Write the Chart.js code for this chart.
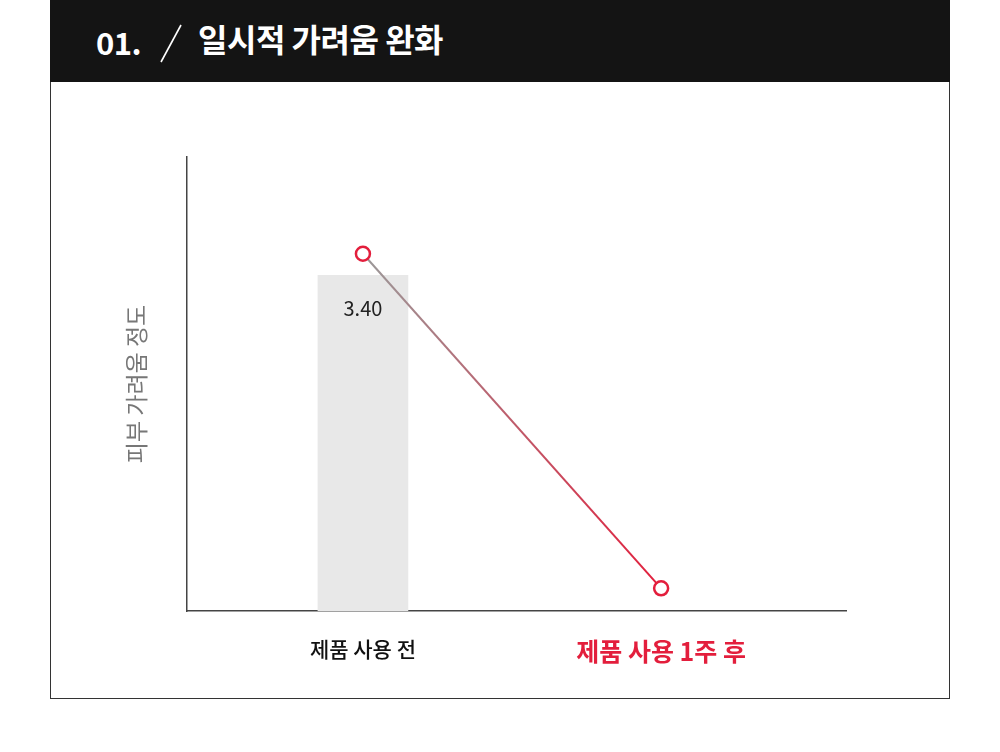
<!DOCTYPE html>
<html>
<head>
<meta charset="utf-8">
<script src="https://cdn.jsdelivr.net/npm/chart.js@4"></script>
<style>
  body { margin: 0; background: #fff; font-family: "Noto Sans CJK KR", "Noto Sans", sans-serif; }
  #header { position: absolute; left: 50px; top: 0; width: 900px; height: 82px; background: #141414; }
  #box { position: absolute; left: 50px; top: 82px; width: 898px; height: 616px; border: 1px solid #333; border-top: none; }
  .ttl { position: absolute; color: #fff; font-weight: 700; line-height: 1; white-space: nowrap; }
  #num { left: 46px; top: 26px; font-size: 31px; letter-spacing: -0.5px; }
  #name { left: 148px; top: 22px; font-size: 32px; letter-spacing: -0.5px; }
  #slash { position: absolute; left: 108px; top: 22px; }
  canvas { position: absolute; left: 0; top: 0; }
</style>
</head>
<body>
<div id="header">
  <div class="ttl" id="num">01.</div>
  <svg id="slash" width="30" height="44"><line x1="3" y1="40" x2="23" y2="3" stroke="#fff" stroke-width="1.6"/></svg>
  <div class="ttl" id="name">일시적 가려움 완화</div>
</div>
<div id="box"></div>
<canvas id="chart" width="1000" height="752"></canvas>
<script>
// chart data
const categories = ["제품 사용 전", "제품 사용 1주 후"];
const barValues = [3.40, null];
const lineValues = [3.62, 0.23];
const barLabels = ["3.40", ""];

const red = "#e31e3c";

// line goes from grey to red
function lineGradient(context) {
    const chart = context.chart;
    const x = chart.scales.x;
    if (!chart.chartArea || !x) return red;
    const g = chart.ctx.createLinearGradient(x.getPixelForValue(0), 0, x.getPixelForValue(1), 0);
    g.addColorStop(0, "#9a9a9a");
    g.addColorStop(1, red);
    return g;
}

// value label inside the bar
const barLabelPlugin = {
    id: "barLabel",
    afterDatasetsDraw(chart) {
        const meta = chart.getDatasetMeta(0);
        const ctx = chart.ctx;
        ctx.save();
        ctx.font = "20px 'Noto Sans CJK KR', sans-serif";
        ctx.fillStyle = "#222";
        ctx.textAlign = "center";
        ctx.textBaseline = "middle";
        meta.data.forEach(function(el, i) {
            const idx = meta._parsed[i].x;
            ctx.fillText(barLabels[idx], el.x, el.y + 33);
        });
        ctx.restore();
    }
};

new Chart(document.getElementById("chart").getContext("2d"), {
    data: {
        datasets: [{
            type: "bar",
            data: barValues.map((v, i) => ({ x: i, y: v })).filter(p => p.y !== null),
            backgroundColor: "#e8e8e8",
            barThickness: 90,
            order: 2
        }, {
            type: "line",
            data: lineValues.map((v, i) => ({ x: i, y: v })),
            borderColor: lineGradient,
            borderWidth: 2,
            pointRadius: 7,
            pointBorderWidth: 2.5,
            pointBackgroundColor: "#fff",
            pointBorderColor: red,
            order: 1
        }]
    },
    options: {
        responsive: false,
        animation: false,
        layout: { padding: { left: 107, top: 157, right: 154, bottom: 81 } },
        plugins: { legend: { display: false }, tooltip: { enabled: false } },
        scales: {
            x: {
                type: "linear",
                min: -0.59,
                max: 1.62,
                offset: false,
                grid: { display: false },
                border: { display: true, color: "#444", width: 1.5 },
                afterBuildTicks: axis => { axis.ticks = categories.map((c, i) => ({ value: i })); },
                afterFit: axis => { axis.height = 60; },
                ticks: {
                    padding: 17,
                    callback: v => categories[v],
                    color: ctx => ctx.index === 1 ? red : "#111",
                    font: ctx => ctx.index === 1
                        ? { family: "'Noto Sans CJK KR'", size: 25, weight: "bold" }
                        : { family: "'Noto Sans CJK KR'", size: 21, weight: "500" }
                }
            },
            y: {
                min: 0,
                max: 4.6,
                grid: { display: false },
                border: { display: true, color: "#444", width: 1.5 },
                ticks: { display: false },
                afterFit: axis => { axis.width = 80; },
                title: {
                    display: true,
                    text: "피부 가려움 정도",
                    color: "#777",
                    font: { family: "'Noto Sans CJK KR'", size: 23 },
                    padding: { top: 15, bottom: 0 }
                }
            }
        }
    },
    plugins: [barLabelPlugin]
});
</script>
</body>
</html>
